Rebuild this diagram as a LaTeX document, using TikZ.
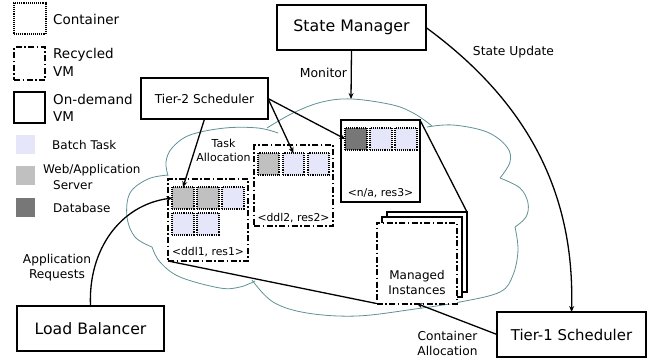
\documentclass[tikz,border=0pt]{standalone}
\usepackage{fontspec}
\setmainfont{DejaVu Sans}
\usetikzlibrary{arrows.meta}
\definecolor{batch}{RGB}{230,230,250}
\definecolor{websrv}{RGB}{192,192,192}
\definecolor{dbase}{RGB}{119,119,119}
\definecolor{cloudc}{RGB}{95,145,150}
\tikzset{
  cont/.style={draw, line width=1.7pt, dash pattern=on 1pt off 0.9pt, minimum width=21.5pt, minimum height=21.5pt, inner sep=0pt, outer sep=0pt},
  recvm/.style={draw, line width=2pt, dash pattern=on 6pt off 2.5pt on 1.5pt off 2.5pt, fill=white, inner sep=0pt, outer sep=0pt},
  odvm/.style={draw, line width=2pt, fill=white, inner sep=0pt, outer sep=0pt},
  mainbox/.style={draw, line width=2pt, fill=white, inner sep=0pt, outer sep=0pt},
  swatch/.style={minimum width=19pt, minimum height=19pt, inner sep=0pt},
  arr/.style={line width=1.3pt, -{Stealth[length=6pt, width=5pt]}},
  proj/.style={line width=1.3pt},
  cloudline/.style={cloudc, line width=0.8pt},
  lbl/.style={align=center, inner sep=0pt},
  legtxt/.style={anchor=west, inner sep=0pt, font=\fontsize{13.5}{16}\selectfont},
  legsmall/.style={anchor=west, inner sep=0pt, font=\fontsize{12}{14}\selectfont},
  vmlbl/.style={inner sep=0pt, font=\fontsize{10.8}{13}\selectfont},
}
\begin{document}
\begin{tikzpicture}[x=1pt, y=-1pt]
\useasboundingbox (0,0) rectangle (657,362);

% ---------- cloud ----------
\draw[cloudline] plot[smooth, tension=0.6] coordinates {(168,176) (166,162) (172,148) (190,135) (225,128) (258,128) (278,133)};
\draw[cloudline] plot[smooth, tension=0.6] coordinates {(267,128) (293,113) (322,102) (352,99) (393,105) (415,114) (432,126)};
\draw[cloudline] plot[smooth, tension=0.6] coordinates {(427,127) (453,125) (487,132) (507,147) (510,162) (500,178)};
\draw[cloudline] plot[smooth, tension=0.6] coordinates {(500,178) (520,188) (528,203) (526,217) (515,227)};
\draw[cloudline] plot[smooth, tension=0.6] coordinates {(515,227) (518,250) (513,275) (500,292) (460,302) (415,309) (357,316) (307,313) (273,302) (252,280)};
\draw[cloudline] plot[smooth, tension=0.6] coordinates {(255,281) (240,287) (220,288) (180,277) (160,262) (152,247)};
\draw[cloudline] plot[smooth, tension=0.6] coordinates {(152,247) (135,237) (127,217) (130,193) (148,179) (168,175)};
\coordinate (cloudtop) at (351,99);

% ---------- legend ----------
\node[cont, minimum width=32pt, minimum height=31pt] (lgc) at (30,18.5) {};
\node[recvm, minimum width=31pt, minimum height=33pt] (lgr) at (29.5,63.5) {};
\node[odvm, minimum width=31pt, minimum height=31pt] (lgo) at (29.5,107.5) {};
\node[swatch, fill=batch] (lgb) at (25.5,144.5) {};
\node[swatch, fill=websrv] (lgw) at (25.5,175.5) {};
\node[swatch, fill=dbase] (lgd) at (25.5,207.5) {};
\node[legtxt] (tc) at (53,19) {Container};
\node[legtxt] (tr1) at (53,55) {Recycled};
\node[legtxt] (tr2) at (53,72) {VM};
\node[legtxt] (to1) at (53,99) {On-demand};
\node[legtxt] (to2) at (53,117) {VM};
\node[legsmall] (tb) at (52,145) {Batch Task};
\node[legsmall] (tw1) at (43,170) {Web/Application};
\node[legsmall] (tw2) at (53,185) {Server};
\node[legsmall] (td) at (53,208) {Database};

% ---------- VMs ----------
\node[recvm, minimum width=80pt, minimum height=82pt] (vm1) at (208,220) {};
\node[recvm, minimum width=79pt, minimum height=81pt] (vm2) at (293.5,185.5) {};
\node[odvm, minimum width=79pt, minimum height=82pt] (vm3) at (380.5,161) {};

\node[cont, fill=websrv] (c11) at (183,198) {};
\node[cont, fill=websrv] (c12) at (208,198) {};
\node[cont, fill=batch] (c13) at (233,198) {};
\node[cont, fill=batch] (c14) at (183,224) {};
\node[cont, fill=batch] (c15) at (208,224) {};
\node[vmlbl] (l1) at (208,252) {<ddl1, res1>};

\node[cont, fill=websrv] (c21) at (268.5,164) {};
\node[cont, fill=batch] (c22) at (293.5,164) {};
\node[cont, fill=batch] (c23) at (318.5,164) {};
\node[vmlbl] (l2) at (293.5,218) {<ddl2, res2>};

\node[cont, fill=dbase] (c31) at (356,139) {};
\node[cont, fill=batch] (c32) at (381,139) {};
\node[cont, fill=batch] (c33) at (406,139) {};
\node[vmlbl] (l3) at (380.5,193) {<n/a, res3>};

% ---------- managed instances ----------
\node[odvm, minimum width=80pt, minimum height=80pt] (mi3) at (427,252) {};
\node[odvm, minimum width=80pt, minimum height=80pt] (mi2) at (422,257) {};
\node[recvm, minimum width=80pt, minimum height=81pt] (mi1) at (416.5,263) {};
\node[lbl, font=\fontsize{12}{15}\selectfont] (mit) at (417,282.5) {Managed\\Instances};

\draw[proj] (vm1.south west) -- (mi1.south west);
\draw[proj] (vm3.north east) -- (mi3.north east);

% ---------- main boxes ----------
\node[mainbox, minimum width=149pt, minimum height=45pt, font=\fontsize{15.8}{18}\selectfont] (sm) at (351.5,27.5) {State Manager};
\node[mainbox, minimum width=127pt, minimum height=41pt, font=\fontsize{12.2}{15}\selectfont] (t2) at (204.5,98.5) {Tier-2 Scheduler};
\node[mainbox, minimum width=147pt, minimum height=45pt, font=\fontsize{15.7}{18}\selectfont] (lb) at (90.5,328.5) {Load Balancer};
\node[mainbox, minimum width=149pt, minimum height=45pt, font=\fontsize{14.9}{18}\selectfont] (t1) at (571.5,334.5) {Tier-1 Scheduler};

% ---------- arrows ----------
\draw[arr] (sm.south) -- (cloudtop);
\draw[arr] (sm.east) .. controls (525,100) and (575,190) .. (t1.north);
\draw[arr] (t2.south) -- (c11.north);
\draw[arr] (t2.east) -- (c22.north);
\draw[arr] (t2.east) -- (c31.west);
\draw[arr] (lb.north) .. controls (88,250) and (120,205) .. (c11.west);
\draw[arr] (t1.west) -- (mi1.south);

% ---------- labels ----------
\node[lbl, font=\fontsize{12.4}{15}\selectfont] (lmon) at (323.5,73) {Monitor};
\node[lbl, font=\fontsize{12.3}{15}\selectfont] (lsu) at (513.5,52) {State Update};
\node[lbl, font=\fontsize{11}{14}\selectfont] (lta) at (223.5,150) {Task\\Allocation};
\node[lbl, font=\fontsize{12.2}{14.5}\selectfont] (lar) at (57,267.5) {Application\\Requests};
\node[lbl, font=\fontsize{12.2}{14.5}\selectfont] (lca) at (447.5,343.5) {Container\\Allocation};
\end{tikzpicture}
\end{document}
